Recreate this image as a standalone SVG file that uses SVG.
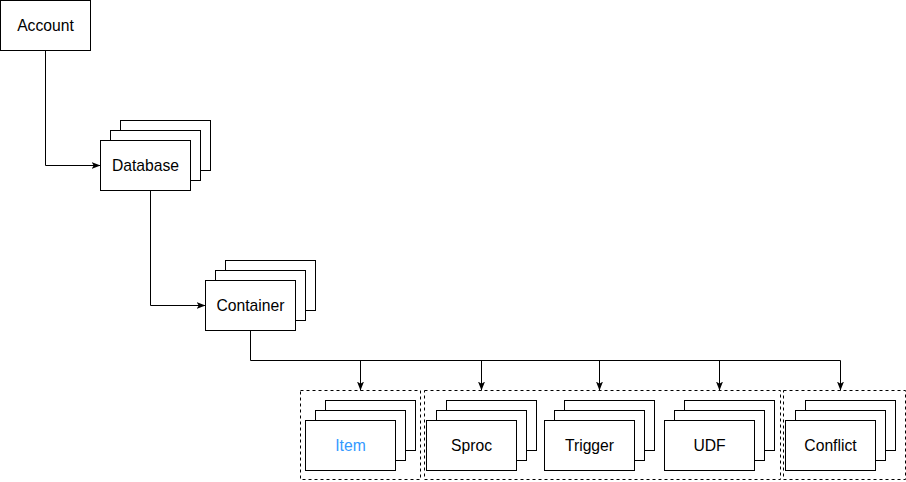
<svg xmlns="http://www.w3.org/2000/svg" width="906" height="482" viewBox="0 0 906 482">
<style>
.box{fill:#fff;stroke:#000;stroke-width:1}
.grp{fill:none;stroke:#000;stroke-width:1;stroke-dasharray:3 3}
.edge{fill:none;stroke:#000;stroke-width:1}
.lbl{font-family:"Liberation Sans",Helvetica,Arial,sans-serif;font-size:15.7px;fill:#000;text-anchor:middle}
.blue{fill:#3399FF}
</style>
<defs>
<marker id="arr" markerUnits="userSpaceOnUse" markerWidth="9" markerHeight="9" viewBox="0 0 9 9" refX="9" refY="4.5" orient="auto">
<path d="M0,1 L9,4.5 L0,8 L2.2,4.5 Z" fill="#000"/>
</marker>
</defs>
<rect id="bg" x="0" y="0" width="906" height="482" fill="#fff"/>
<g id="groups">
<rect class="grp" x="300.5" y="390.5" width="120" height="89"/>
<rect class="grp" x="424.5" y="390.5" width="356" height="89"/>
<rect class="grp" x="783.5" y="390.5" width="122" height="89"/>
</g>
<g id="connectors">
<path class="edge" d="M45.5 50.5 V165.5 H100.5" marker-end="url(#arr)"/>
<path class="edge" d="M150.5 190.5 V305.5 H205.5" marker-end="url(#arr)"/>
<path class="edge" d="M250.5 330.5 V360.5 H840.5"/>
<path class="edge" d="M360.5 360.5 V390.5" marker-end="url(#arr)"/>
<path class="edge" d="M481.5 360.5 V390.5" marker-end="url(#arr)"/>
<path class="edge" d="M599.5 360.5 V390.5" marker-end="url(#arr)"/>
<path class="edge" d="M719.5 360.5 V390.5" marker-end="url(#arr)"/>
<path class="edge" d="M840.5 360.5 V390.5" marker-end="url(#arr)"/>
</g>
<g id="account">
<rect class="box" x="0.5" y="0.5" width="90" height="50"/>
<text class="lbl" x="45.5" y="30.5">Account</text>
</g>
<g id="database">
<rect class="box" x="120.5" y="120.5" width="90" height="50"/>
<rect class="box" x="110.5" y="130.5" width="90" height="50"/>
<rect class="box" x="100.5" y="140.5" width="90" height="50"/>
<text class="lbl" x="145.5" y="170.5">Database</text>
</g>
<g id="container">
<rect class="box" x="225.5" y="260.5" width="90" height="50"/>
<rect class="box" x="215.5" y="270.5" width="90" height="50"/>
<rect class="box" x="205.5" y="280.5" width="90" height="50"/>
<text class="lbl" x="250.5" y="310.5">Container</text>
</g>
<g id="item">
<rect class="box" x="325.5" y="400.5" width="90" height="50"/>
<rect class="box" x="315.5" y="410.5" width="90" height="50"/>
<rect class="box" x="305.5" y="420.5" width="90" height="50"/>
<text class="lbl blue" x="350.5" y="450.5">Item</text>
</g>
<g id="sproc">
<rect class="box" x="446.5" y="400.5" width="90" height="50"/>
<rect class="box" x="436.5" y="410.5" width="90" height="50"/>
<rect class="box" x="426.5" y="420.5" width="90" height="50"/>
<text class="lbl" x="471.5" y="450.5">Sproc</text>
</g>
<g id="trigger">
<rect class="box" x="564.5" y="400.5" width="90" height="50"/>
<rect class="box" x="554.5" y="410.5" width="90" height="50"/>
<rect class="box" x="544.5" y="420.5" width="90" height="50"/>
<text class="lbl" x="589.5" y="450.5">Trigger</text>
</g>
<g id="udf">
<rect class="box" x="684.5" y="400.5" width="90" height="50"/>
<rect class="box" x="674.5" y="410.5" width="90" height="50"/>
<rect class="box" x="664.5" y="420.5" width="90" height="50"/>
<text class="lbl" x="709.5" y="450.5">UDF</text>
</g>
<g id="conflict">
<rect class="box" x="805.5" y="400.5" width="90" height="50"/>
<rect class="box" x="795.5" y="410.5" width="90" height="50"/>
<rect class="box" x="785.5" y="420.5" width="90" height="50"/>
<text class="lbl" x="830.5" y="450.5">Conflict</text>
</g>
</svg>
